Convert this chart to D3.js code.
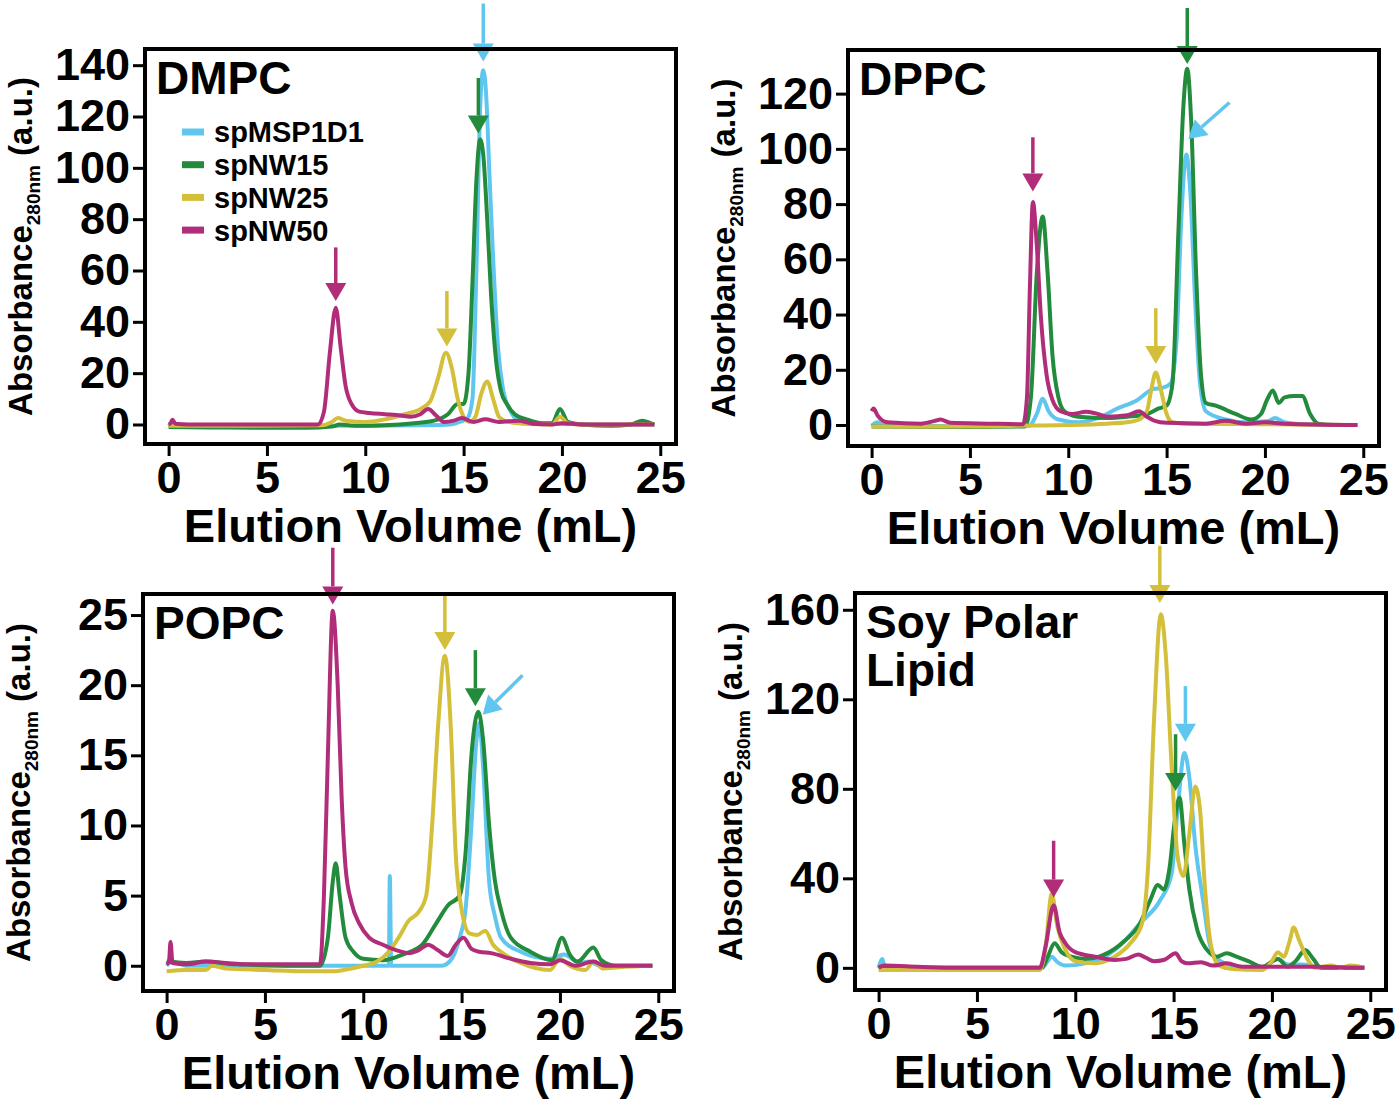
<!DOCTYPE html>
<html>
<head>
<meta charset="utf-8">
<script src="https://cdn.jsdelivr.net/npm/d3@7"></script>
<style>
  body { margin: 0; background: #fff; }
  text { font-family: "Liberation Sans", Arial, Helvetica, sans-serif; font-weight: bold; fill: #000; }
</style>
</head>
<body>
<div id="chart"></div>
<script>
// Data
// ==========================================
var seriesNames = ["spMSP1D1", "spNW15", "spNW25", "spNW50"];
var xTicks = [0, 5, 10, 15, 20, 25];

// DMPC
var dmpcYTicks = [0, 20, 40, 60, 80, 100, 120, 140];
var dmpcMSP1D1 = [[0,-0.5],[0.2,0.5],[0.4,-0.3],[5,-0.5],[10,-0.5],[13,-0.3],[14.3,0],[14.8,1],[15.2,2.5],[15.45,10],[15.65,60],[15.85,125],[16.0,138],[16.15,128],[16.3,100],[16.5,65],[16.75,30],[17.0,14],[17.4,5],[17.8,1.5],[18.5,0.5],[20,0.3],[22,0],[24.7,0]];
var dmpcNW15 = [[0,-1],[3,-1.2],[7,-1.3],[8.3,-0.8],[8.7,0],[9.5,-0.5],[11,-0.3],[12.5,0.5],[13.5,1.5],[14.2,4],[14.7,8],[15.0,8],[15.25,20],[15.45,55],[15.65,95],[15.84,111],[16.0,105],[16.2,80],[16.4,50],[16.65,25],[16.9,13],[17.2,8],[17.6,4],[18.2,2],[19,0.5],[19.5,0.5],[19.9,6],[20.3,1],[21,0],[22.5,-0.5],[23.5,0],[24.1,1.5],[24.5,0.5],[24.7,0]];
var dmpcNW25 = [[0,-0.5],[4,-0.5],[7.8,-0.3],[8.3,1],[8.6,2.5],[9,1.5],[10,1],[11,2],[12,4],[12.8,6],[13.3,9],[13.7,18],[14.1,28],[14.4,22],[14.7,10],[15.0,3],[15.3,1],[15.6,3],[15.9,12],[16.2,16.8],[16.5,10],[16.8,3],[17.3,1],[18,0.3],[19.5,0],[19.9,3],[20.3,0.5],[21,0],[24.7,0]];
var dmpcNW50 = [[0,0],[0.1,0.5],[0.2,1.8],[0.35,0.3],[1,0],[7.6,0],[7.9,5],[8.2,28],[8.5,45.5],[8.75,30],[9.0,15],[9.3,8],[9.7,5],[10.2,4.5],[11,4],[11.8,3.5],[12.3,3],[12.8,4],[13.2,6],[13.6,3.5],[14.0,1],[14.5,1.5],[14.9,2.5],[15.5,1],[16.1,2],[16.8,1],[17.8,1.5],[18.5,0.3],[19.5,0],[20,0.5],[21,0],[24.7,0]];
// arrows: [series index, tail x, tail y, tip x, tip y]
var dmpcArrows = [[0,16.0,164,16.0,141.4],[1,15.75,135,15.75,113.4],[3,8.5,69,8.5,48.1],[2,14.15,52,14.15,30.4]];

// DPPC
var dppcYTicks = [0, 20, 40, 60, 80, 100, 120];
var dppcMSP1D1 = [[0,-0.3],[0.3,1],[0.6,0],[5,-0.5],[8,-0.3],[8.4,4],[8.7,9.5],[9.0,5],[9.5,2],[10.5,1],[11.5,2.5],[12.5,6],[13.5,9],[14.3,13],[14.8,13.5],[15.2,15],[15.5,30],[15.75,75],[16.0,98],[16.2,85],[16.45,45],[16.7,15],[17,5],[18,2],[19,1],[20.2,1.5],[20.5,2.5],[21,1],[22,0.3],[24.7,0]];
var dppcNW15 = [[0,-0.5],[5,-0.7],[7.8,-0.5],[8.1,10],[8.4,55],[8.7,75.5],[8.95,55],[9.2,25],[9.5,10],[9.8,5],[10.5,3],[12,2.5],[13,3],[14,4],[14.6,6],[15.0,7],[15.3,15],[15.6,70],[15.85,115],[16.05,129],[16.25,110],[16.5,55],[16.75,18],[17.0,8],[17.5,7],[18.5,4],[19.3,2],[19.8,4],[20.1,9],[20.4,12.5],[20.7,8],[21.0,10],[21.5,10.5],[21.9,10.5],[22.3,4],[22.7,0.5],[23.5,0],[24.7,0]];
var dppcNW25 = [[0,-0.5],[5,-0.5],[8,-0.2],[10,0],[12,0.5],[13,1],[13.6,2],[14.0,5],[14.2,12],[14.45,19],[14.7,13],[15.0,4],[15.3,1],[16,0.5],[20,0.3],[24.7,0]];
var dppcNW50 = [[0,5],[0.1,6],[0.3,3.5],[0.8,1],[2.5,0.5],[3.2,1.5],[3.5,2],[4,0.8],[6,0.5],[7.7,0.3],[7.9,10],[8.05,50],[8.2,80.8],[8.4,65],[8.6,40],[8.9,18],[9.2,9],[9.6,5],[10.2,4],[10.9,4.8],[11.4,4.2],[12,3],[13,3.5],[13.6,5],[14.0,3],[14.4,1.5],[15,0.8],[17,0.5],[18,1.5],[19,0.5],[20,1],[21,0.5],[24.7,0]];
var dppcArrows = [[1,16.05,151,16.05,130.7],[0,18.2,116.8,16.1,103.6],[3,8.2,104.2,8.2,84.6],[2,14.45,42.3,14.45,22.1]];

// POPC
var popcYTicks = [0, 5, 10, 15, 20, 25];
var popcMSP1D1 = [[0,0],[0.3,0.3],[1,0],[11.3,0],[11.35,6.4],[11.42,0],[14.0,0],[14.5,0.5],[14.9,2],[15.2,4],[15.5,10],[15.75,16],[15.9,17.3],[16.1,14],[16.4,6],[16.7,3.5],[17.0,2],[18,1],[19.5,0.5],[20.2,0.8],[21,0.2],[21.5,0.3],[22,0],[24.7,0]];
var popcNW15 = [[0,0.3],[1,0.2],[2,0.3],[3.5,0.1],[7.8,0],[8.2,2],[8.45,6],[8.6,7.3],[8.8,5],[9.1,2],[9.5,1],[10,0.5],[11,0.4],[12,0.8],[13,1.5],[13.7,3],[14.3,4.3],[14.9,5],[15.2,8],[15.5,15],[15.85,18.1],[16.1,16],[16.4,10],[16.7,6],[17.0,4],[17.5,2],[18.5,1],[19.6,0.4],[20.1,2],[20.5,0.8],[20.9,0.3],[21.7,1.3],[22.1,0.4],[22.8,0],[24.7,0]];
var popcNW25 = [[0,-0.4],[1,-0.3],[2,-0.3],[2.3,0],[3,-0.2],[5,-0.3],[7,-0.4],[8.5,-0.4],[9,-0.3],[10,0],[10.7,0.3],[11.3,1],[11.8,2],[12.3,3.2],[12.8,3.8],[13.2,5],[13.5,10],[13.8,17],[14.15,22.1],[14.45,17],[14.7,8],[15.0,4],[15.4,2.3],[15.8,2.2],[16.2,2.5],[16.6,1.5],[17,1],[18,0.2],[19.5,-0.3],[20,0.5],[20.5,0],[21.3,-0.3],[21.7,0.3],[22.2,-0.2],[23,-0.1],[24.7,0]];
var popcNW50 = [[0,0.1],[0.12,0.3],[0.2,1.7],[0.3,0.2],[1,0.1],[2,0.3],[3,0.2],[4,0.1],[7.8,0.1],[8.0,5],[8.2,15],[8.45,25.3],[8.7,20],[8.9,12],[9.1,7],[9.4,4.5],[9.8,3],[10.3,2],[11,1.5],[11.7,1.1],[12.3,0.9],[12.8,1.1],[13.3,1.5],[13.8,1.1],[14.3,0.7],[14.7,1.5],[15.1,2],[15.5,1.2],[15.9,1],[16.5,0.9],[17.5,0.5],[18.5,0.2],[19.5,0.1],[20,0.4],[20.8,0],[21.7,0.3],[22.3,0],[24.7,0]];
var popcArrows = [[3,8.45,29.8,8.45,25.76],[2,14.15,26.6,14.15,22.5],[1,15.7,22.5,15.7,18.5],[0,18.1,20.7,16.07,17.9]];

// Soy Polar Lipid
var soyYTicks = [0, 40, 80, 120, 160];
var soyMSP1D1 = [[0,0],[0.2,4],[0.3,0],[1,0],[8.3,0],[8.6,3],[8.8,5],[9.1,2.5],[9.5,1],[10.5,2],[11.5,5],[12.5,12],[13.3,20],[14.3,30],[14.9,42],[15.2,70],[15.55,96],[15.8,85],[16.1,55],[16.5,30],[16.8,12],[17.1,5],[18,1],[19.5,0],[20.3,4],[20.8,1.5],[21.5,1.5],[22,1],[22.5,0],[24.7,0]];
var soyNW15 = [[0,0.5],[1,0],[8.3,0],[8.6,5],[8.95,11],[9.3,7],[9.8,5],[10.5,4],[11.5,6],[12.5,12],[13.3,20],[13.8,30],[14.2,37],[14.5,35],[14.8,45],[15.05,65],[15.3,76],[15.55,55],[15.8,35],[16.2,17],[16.7,8],[17.2,5],[17.7,6.5],[18.2,5],[18.8,3],[19.5,0.5],[20.3,4],[20.8,0.5],[21.2,3],[21.7,8],[22.1,4],[22.5,0],[24.7,0]];
var soyNW25 = [[0,-1],[3,-1],[8.2,-1],[8.5,10],[8.8,33],[9.1,18],[9.5,8],[10,3],[11,2],[12,5],[12.8,11],[13.4,20],[13.7,45],[14.0,110],[14.35,158],[14.6,140],[14.9,90],[15.2,50],[15.5,41],[15.8,60],[16.1,81],[16.35,70],[16.6,35],[16.9,10],[17.3,1],[18,-0.5],[19.5,-1],[20,3],[20.3,7],[20.6,5],[20.9,12],[21.1,18],[21.4,12],[21.8,4],[22.2,0],[23,1],[23.5,0],[24,1],[24.7,0]];
var soyNW50 = [[0,0],[0.3,1],[2,0.5],[4,0],[8.2,0],[8.5,10],[8.9,28],[9.2,16],[9.5,11],[10,7],[11,5],[12,3.5],[12.6,4],[13.2,6],[13.6,4.5],[14,3],[14.5,3.5],[15.1,6.5],[15.4,3],[15.7,2],[16.4,2.5],[17,1],[17.7,2],[18.5,0.5],[20,0.5],[22,0.5],[24.7,0]];
var soyArrows = [[2,14.3,188.6,14.3,163],[0,15.6,125.9,15.6,101],[1,15.1,104.4,15.1,79],[3,8.9,56.8,8.9,31.4]];

// Styles
// ==========================================
var colors = ["#5fc7ef", "#238b3c", "#d4bf3b", "#b22d79"];
var xDomain = [-1.2, 25.8];
var frameW = 531;

var panels = [
  { title: ["DMPC"], left: 145, top: 49, h: 395, yDomain: [-7.6, 146.3], yTicks: dmpcYTicks,
    series: [dmpcMSP1D1, dmpcNW15, dmpcNW25, dmpcNW50], arrows: dmpcArrows, legend: true },
  { title: ["DPPC"], left: 848, top: 50, h: 396, yDomain: [-7.6, 135.8], yTicks: dppcYTicks,
    series: [dppcMSP1D1, dppcNW15, dppcNW25, dppcNW50], arrows: dppcArrows },
  { title: ["POPC"], left: 143, top: 594, h: 397, yDomain: [-1.8, 26.5], yTicks: popcYTicks,
    series: [popcMSP1D1, popcNW15, popcNW25, popcNW50], arrows: popcArrows },
  { title: ["Soy Polar", "Lipid"], left: 855, top: 593, h: 397, yDomain: [-9.9, 167.5], yTicks: soyYTicks,
    series: [soyMSP1D1, soyNW15, soyNW25, soyNW50], arrows: soyArrows }
];

var svg = d3.select("#chart")
  .append("svg")
  .attr("width", 1400)
  .attr("height", 1104);

panels.forEach(drawPanel);

function drawPanel(p) {
  var g = svg.append("g")
    .attr("transform", `translate(${p.left}, ${p.top})`);

  var x = d3.scaleLinear().domain(xDomain).range([0, frameW]);
  var y = d3.scaleLinear().domain(p.yDomain).range([p.h, 0]);

  // axes
  var xAxis = g.append("g")
    .attr("transform", `translate(0, ${p.h})`)
    .call(d3.axisBottom(x).tickValues(xTicks).tickSize(12).tickPadding(5));
  var yAxis = g.append("g")
    .call(d3.axisLeft(y).tickValues(p.yTicks).tickSize(12).tickPadding(3));

  [xAxis, yAxis].forEach(function(a) {
    a.select(".domain").remove();
    a.selectAll(".tick line").attr("stroke", "#000").attr("stroke-width", 3);
    a.selectAll(".tick text")
      .style("font-size", "45px")
      .style("font-family", "'Liberation Sans', Arial, sans-serif")
      .style("font-weight", "bold")
      .attr("fill", "#000");
  });

  // curves
  var line = d3.line()
    .x(d => x(d[0]))
    .y(d => y(d[1]))
    .curve(d3.curveMonotoneX);

  p.series.forEach(function(s, i) {
    g.append("path")
      .datum(s)
      .attr("d", line)
      .attr("fill", "none")
      .attr("stroke", colors[i])
      .attr("stroke-width", 4)
      .attr("stroke-linejoin", "round");
  });

  // arrows
  p.arrows.forEach(function(a) {
    var x1 = x(a[1]), y1 = y(a[2]), x2 = x(a[3]), y2 = y(a[4]);
    var ang = Math.atan2(y2 - y1, x2 - x1);
    var headL = 18, headW = 10.5;
    var bx = x2 - headL * Math.cos(ang), by = y2 - headL * Math.sin(ang);
    g.append("line")
      .attr("x1", x1).attr("y1", y1)
      .attr("x2", bx).attr("y2", by)
      .attr("stroke", colors[a[0]])
      .attr("stroke-width", 3.5);
    var px = -Math.sin(ang), py = Math.cos(ang);
    g.append("path")
      .attr("d", `M${x2},${y2}L${bx + px * headW},${by + py * headW}L${bx - px * headW},${by - py * headW}Z`)
      .attr("fill", colors[a[0]]);
  });

  // frame
  g.append("rect")
    .attr("width", frameW)
    .attr("height", p.h)
    .attr("fill", "none")
    .attr("stroke", "#000")
    .attr("stroke-width", 4);

  // panel title
  p.title.forEach(function(t, i) {
    g.append("text")
      .attr("x", 11)
      .attr("y", 45 + i * 48)
      .style("font-size", "46px")
      .text(t);
  });

  // legend
  if (p.legend) {
    var lg = g.append("g").attr("transform", "translate(37, 83)");
    seriesNames.forEach(function(name, i) {
      lg.append("line")
        .attr("x1", 0).attr("x2", 22)
        .attr("y1", i * 32.7).attr("y2", i * 32.7)
        .attr("stroke", colors[i])
        .attr("stroke-width", 7);
      lg.append("text")
        .attr("x", 32)
        .attr("y", i * 32.7)
        .attr("dy", "0.36em")
        .style("font-size", "29px")
        .text(name);
    });
  }

  // axis labels
  g.append("text")
    .attr("x", frameW / 2)
    .attr("y", p.h + 98)
    .attr("text-anchor", "middle")
    .style("font-size", "47px")
    .text("Elution Volume (mL)");

  var yl = g.append("text")
    .attr("transform", `translate(-113, ${p.h / 2}) rotate(-90)`)
    .attr("text-anchor", "middle")
    .style("font-size", "33px");
  yl.append("tspan").text("Absorbance");
  yl.append("tspan").attr("dy", 8).style("font-size", "19px").text("280nm");
  yl.append("tspan").attr("dy", -8).text(" (a.u.)");
}
</script>
</body>
</html>
